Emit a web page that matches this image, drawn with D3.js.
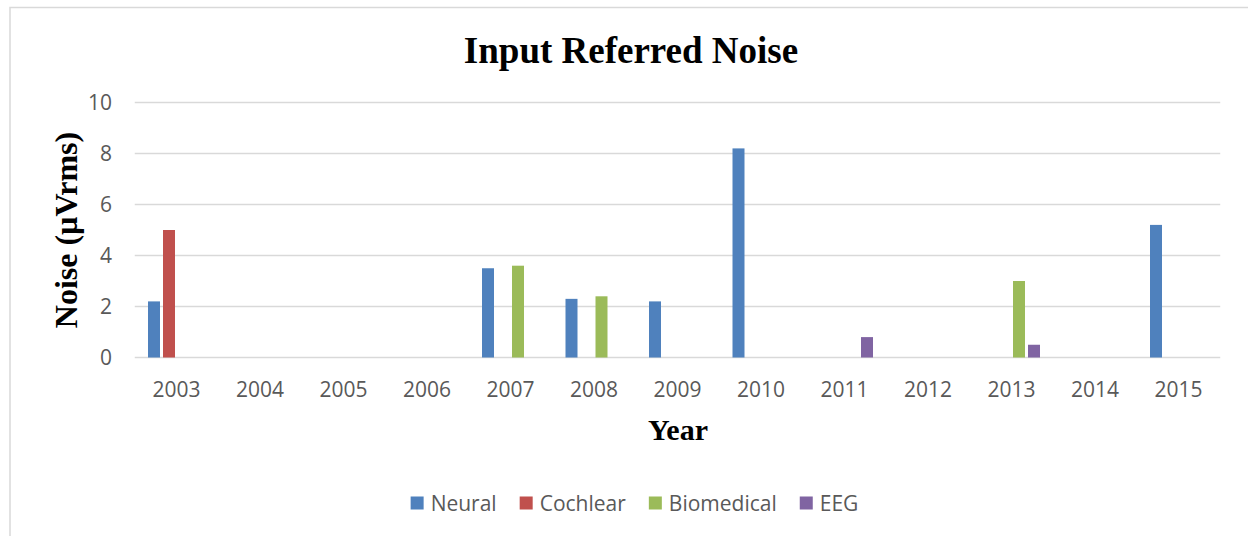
<!DOCTYPE html>
<html>
<head>
<meta charset="utf-8">
<script src="https://cdn.jsdelivr.net/npm/d3@7"></script>
<style>
  body { margin: 0; background: #fff; }
  svg { display: block; }
</style>
</head>
<body>
<div id="chart"></div>
<script>
// chart values
const years = ["2003", "2004", "2005", "2006", "2007", "2008", "2009", "2010", "2011", "2012", "2013", "2014", "2015"];
const seriesNames = ["Neural", "Cochlear", "Biomedical", "EEG"];
const neural = [2.2, null, null, null, 3.5, 2.3, 2.2, 8.2, null, null, null, null, 5.2];
const cochlear = [5.0, null, null, null, null, null, null, null, null, null, null, null, null];
const biomedical = [null, null, null, null, 3.6, 2.4, null, null, null, null, 3.0, null, null];
const eeg = [null, null, null, null, null, null, null, null, 0.8, null, 0.5, null, null];
const yTicks = [0, 2, 4, 6, 8, 10];
const colors = ["#4f81bd", "#c0504d", "#9bbb59", "#8064a2"];

const W = 1248, H = 536;
const plot = { left: 134.75, right: 1220.25, top: 102.5, bottom: 357.5 };

const svg = d3
  .select("#chart")
  .append("svg")
  .attr("width", W)
  .attr("height", H);

// chart frame (right / bottom edges fall outside the picture)
svg
  .append("rect")
  .attr("x", 10)
  .attr("y", 7.5)
  .attr("width", W + 20)
  .attr("height", H + 20)
  .attr("fill", "#fff")
  .attr("stroke", "#d9d9d9")
  .attr("stroke-width", 1.5);

const x = d3.scaleBand().domain(years).range([plot.left, plot.right]).padding(0);
const xs = d3.scaleBand().domain(seriesNames).range([0, 57]).paddingInner(0.2).paddingOuter(0);
const y = d3.scaleLinear().domain([0, 10]).range([plot.bottom, plot.top]);

// gridlines
svg
  .append("g")
  .selectAll("line")
  .data(yTicks)
  .join("line")
  .attr("x1", plot.left)
  .attr("x2", plot.right)
  .attr("y1", (d) => y(d))
  .attr("y2", (d) => y(d))
  .attr("stroke", "#d9d9d9")
  .attr("stroke-width", 1.5);

// y tick labels
svg
  .append("g")
  .selectAll("text")
  .data(yTicks)
  .join("text")
  .attr("x", 112)
  .attr("y", (d) => y(d))
  .attr("dy", "0.36em")
  .attr("text-anchor", "end")
  .attr("font-family", "Open Sans, sans-serif")
  .attr("font-size", 21)
  .attr("fill", "#595959")
  .text((d) => d);

// x tick labels
svg
  .append("g")
  .selectAll("text")
  .data(years)
  .join("text")
  .attr("x", (d) => x(d) + x.bandwidth() / 2)
  .attr("y", 397)
  .attr("text-anchor", "middle")
  .attr("font-family", "Open Sans, sans-serif")
  .attr("font-size", 21)
  .attr("fill", "#595959")
  .text((d) => d);

// bars
const seriesValues = [neural, cochlear, biomedical, eeg];
const rows = [];
seriesValues.forEach((vals, si) => {
  vals.forEach((v, i) => {
    if (v !== null) rows.push({ year: years[i], series: seriesNames[si], value: v, color: colors[si] });
  });
});

svg
  .append("g")
  .selectAll("rect")
  .data(rows)
  .join("rect")
  .attr("x", (d) => x(d.year) + x.bandwidth() / 2 - 28.5 + xs(d.series))
  .attr("y", (d) => y(d.value))
  .attr("width", xs.bandwidth())
  .attr("height", (d) => y(0) - y(d.value))
  .attr("fill", (d) => d.color);

// titles
svg
  .append("text")
  .attr("x", 631)
  .attr("y", 63)
  .attr("text-anchor", "middle")
  .attr("font-family", "Liberation Serif, Times New Roman, serif")
  .attr("font-weight", "bold")
  .attr("font-size", 37)
  .attr("fill", "#000")
  .text("Input Referred Noise");

svg
  .append("text")
  .attr("transform", "translate(77,230) rotate(-90)")
  .attr("text-anchor", "middle")
  .attr("font-family", "Liberation Serif, Times New Roman, serif")
  .attr("font-weight", "bold")
  .attr("font-size", 32)
  .attr("fill", "#000")
  .text("Noise (µVrms)");

svg
  .append("text")
  .attr("x", 678)
  .attr("y", 440)
  .attr("text-anchor", "middle")
  .attr("font-family", "Liberation Serif, Times New Roman, serif")
  .attr("font-weight", "bold")
  .attr("font-size", 30)
  .attr("fill", "#000")
  .text("Year");

// legend
const legend = svg.append("g");
const items = legend
  .selectAll("g")
  .data(seriesNames)
  .join("g");
items
  .append("rect")
  .attr("width", 13)
  .attr("height", 13)
  .attr("y", -6.5)
  .attr("fill", (d, i) => colors[i]);
items
  .append("text")
  .attr("x", 20)
  .attr("dy", "0.36em")
  .attr("font-family", "Open Sans, sans-serif")
  .attr("font-size", 21)
  .attr("fill", "#595959")
  .text((d) => d);

let cx = 0;
const offsets = [];
items.each(function () {
  offsets.push(cx);
  const tw = d3.select(this).select("text").node().getComputedTextLength();
  cx += 20 + tw + 23;
});
const total = cx - 23;
const startX = 634.5 - total / 2;
items.attr("transform", (d, i) => `translate(${startX + offsets[i]},503)`);
</script>
</body>
</html>
